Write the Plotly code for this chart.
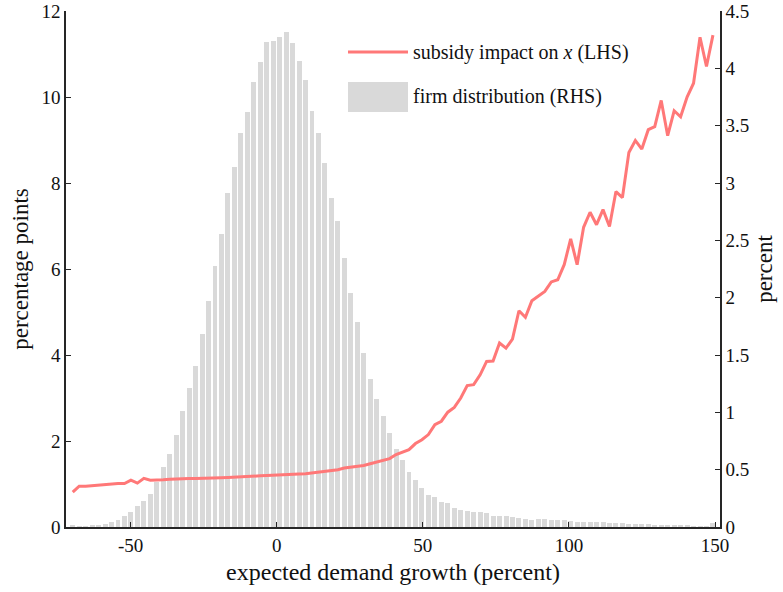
import numpy as np
import plotly.graph_objects as go

# ---- data ----
n_bins = 100
bin_first_center = -69.8
bin_step = 2.213
growth = [round(bin_first_center + bin_step * i, 3) for i in range(n_bins)]

firm_share = [
    0.016, 0.004, 0.008, 0.013, 0.020, 0.030, 0.048, 0.065, 0.092, 0.133,
    0.180, 0.230, 0.284, 0.395, 0.520, 0.640, 0.800, 1.010, 1.210, 1.408,
    1.687, 1.969, 2.280, 2.557, 2.917, 3.138, 3.440, 3.620, 3.879, 4.057,
    4.228, 4.240, 4.275, 4.320, 4.222, 4.060, 3.894, 3.632, 3.440, 3.176,
    2.873, 2.673, 2.342, 2.045, 1.792, 1.516, 1.295, 1.120, 0.964, 0.818,
    0.682, 0.586, 0.484, 0.406, 0.342, 0.281, 0.260, 0.220, 0.205, 0.170,
    0.150, 0.141, 0.135, 0.129, 0.126, 0.100, 0.094, 0.092, 0.083, 0.077,
    0.074, 0.060, 0.071, 0.071, 0.065, 0.060, 0.057, 0.054, 0.048, 0.048,
    0.042, 0.042, 0.045, 0.033, 0.031, 0.031, 0.028, 0.028, 0.025, 0.022,
    0.019, 0.016, 0.013, 0.013, 0.010, 0.010, 0.007, 0.007, 0.007, 0.036,
]

subsidy_impact = [
    0.81, 0.95, 0.95, 0.965, 0.97, 0.99, 1.00, 1.01, 1.01, 1.09,
    1.02, 1.13, 1.09, 1.09, 1.10, 1.11, 1.12, 1.12, 1.13, 1.13,
    1.13, 1.135, 1.14, 1.145, 1.15, 1.155, 1.16, 1.17, 1.18, 1.19,
    1.20, 1.21, 1.215, 1.22, 1.23, 1.235, 1.24, 1.255, 1.27, 1.30,
    1.315, 1.33, 1.37, 1.385, 1.40, 1.43, 1.47, 1.51, 1.545, 1.59,
    1.685, 1.745, 1.80, 1.94, 2.03, 2.15, 2.38, 2.46, 2.67, 2.78,
    3.00, 3.29, 3.31, 3.54, 3.85, 3.86, 4.28, 4.16, 4.37, 5.03,
    4.875, 5.26, 5.36, 5.48, 5.70, 5.75, 6.10, 6.70, 6.10, 6.97,
    7.32, 7.03, 7.38, 6.99, 7.80, 7.66, 8.71, 8.99, 8.79, 9.24,
    9.31, 9.92, 9.10, 9.68, 9.54, 10.00, 10.32, 11.39, 10.71, 11.44,
]

x_ticks = [-50, 0, 50, 100, 150]
x_ticklabels = ["-50", "0", "50", "100", "150"]
left_ticks = [0, 2, 4, 6, 8, 10, 12]
right_ticks = [0, 0.5, 1, 1.5, 2, 2.5, 3, 3.5, 4, 4.5]
right_ticklabels = ["0", "0.5", "1", "1.5", "2", "2.5", "3", "3.5", "4", "4.5"]

line_name = "subsidy impact on <i>x</i> (LHS)"
bar_name = "firm distribution (RHS)"

# ---- styles ----
FONT = "Liberation Serif"
INK = "#262626"
BAR_COLOR = "#D9D9D9"
LINE_COLOR = "#FF7878"

fig = go.Figure()
fig.add_trace(go.Bar(
    x=growth, y=firm_share, width=bin_step * 0.77,
    marker=dict(color=BAR_COLOR, line=dict(width=0)),
    yaxis="y", name=bar_name, showlegend=False,
))
fig.add_trace(go.Scatter(
    x=growth, y=subsidy_impact, mode="lines",
    line=dict(color=LINE_COLOR, width=3),
    yaxis="y2", name=line_name, showlegend=False,
))

# plot-area geometry (pixels) used for the hand-drawn legend
L, R, T, B = 66, 720, 11, 527
W, H = R - L, B - T
def px(xp):
    return (xp - L) / W
def py(yp):
    return (B - yp) / H

fig.add_shape(type="line", xref="paper", yref="paper",
              x0=px(348), x1=px(408), y0=py(52), y1=py(52),
              line=dict(color=LINE_COLOR, width=3))
fig.add_shape(type="rect", xref="paper", yref="paper",
              x0=px(348), x1=px(408), y0=py(112), y1=py(82),
              fillcolor=BAR_COLOR, line=dict(width=0))
fig.add_annotation(text=line_name, xref="paper", yref="paper",
                   x=px(411), y=py(52), xanchor="left", yanchor="middle",
                   showarrow=False, font=dict(family=FONT, size=20, color="#111"))
fig.add_annotation(text=bar_name, xref="paper", yref="paper",
                   x=px(411), y=py(97), xanchor="left", yanchor="middle",
                   showarrow=False, font=dict(family=FONT, size=20, color="#111"))

fig.update_layout(
    width=783, height=592,
    margin=dict(l=L, r=783 - R, t=T, b=592 - B, autoexpand=False),
    paper_bgcolor="white", plot_bgcolor="white",
    font=dict(family=FONT, size=19, color="#111"),
    bargap=0,
    xaxis=dict(
        range=[-72.1, 151.7], tickvals=x_ticks, ticktext=x_ticklabels,
        ticks="inside", ticklen=5, tickwidth=1.2, tickcolor=INK,
        showline=True, linecolor=INK, linewidth=1.5, mirror=False,
        showgrid=False, zeroline=False, automargin=False,
        title=dict(text="expected demand growth (percent)",
                   font=dict(family=FONT, size=24), standoff=9),
    ),
    yaxis=dict(
        side="right", range=[0, 4.5], tickvals=right_ticks, ticktext=right_ticklabels,
        ticks="inside", ticklen=5, tickwidth=1.2, tickcolor=INK,
        showline=True, linecolor=INK, linewidth=1.5,
        showgrid=False, zeroline=False, automargin=False,
        title=dict(text="percent", font=dict(family=FONT, size=23), standoff=8),
    ),
    yaxis2=dict(
        overlaying="y", side="left", range=[0, 12], tickvals=left_ticks,
        ticks="inside", ticklen=5, tickwidth=1.2, tickcolor=INK,
        showline=True, linecolor=INK, linewidth=1.5,
        showgrid=False, zeroline=False, automargin=False,
        title=dict(text="percentage points", font=dict(family=FONT, size=23), standoff=6),
    ),
)

fig.write_html("out.html")
